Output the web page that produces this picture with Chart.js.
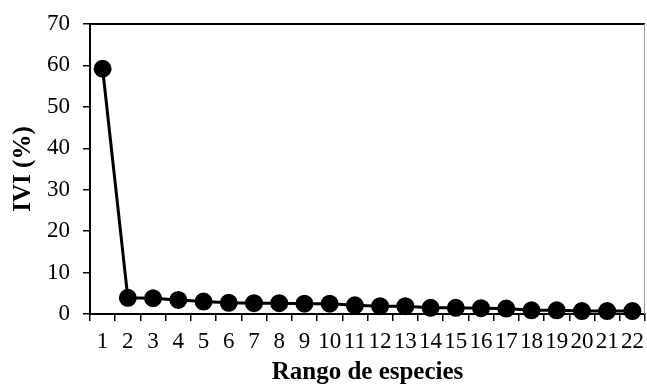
<!DOCTYPE html>
<html>
<head>
<meta charset="utf-8">
<script src="https://cdn.jsdelivr.net/npm/chart.js@4"></script>
<style>
  html, body { margin: 0; padding: 0; background: #fff; }
  #wrap { width: 647px; height: 392px; }
</style>
</head>
<body>
<div id="wrap"><canvas id="cht" width="647" height="392"></canvas></div>
<script>
const rangos = ["1","2","3","4","5","6","7","8","9","10","11","12","13","14","15","16","17","18","19","20","21","22"];
const ivi = [59.2, 3.9, 3.8, 3.4, 3.0, 2.7, 2.6, 2.6, 2.5, 2.5, 2.1, 1.9, 1.9, 1.5, 1.5, 1.4, 1.3, 0.9, 0.9, 0.7, 0.7, 0.7];
const yTicks = [0, 10, 20, 30, 40, 50, 60, 70];

const serif = "'Liberation Serif', 'Times New Roman', serif";

// top + right side of the plot frame
const frame = {
    id: "frame",
    beforeDatasetsDraw(chart) {
        const a = chart.chartArea;
        const ctx = chart.ctx;
        ctx.save();
        ctx.strokeStyle = "#000";
        ctx.lineWidth = 2;
        ctx.beginPath();
        ctx.moveTo(a.left, a.top);
        ctx.lineTo(a.right, a.top);
        ctx.stroke();
        ctx.strokeStyle = "#9a9a9a";
        ctx.lineWidth = 1;
        ctx.beginPath();
        ctx.moveTo(a.right - 0.5, a.top);
        ctx.lineTo(a.right - 0.5, a.bottom);
        ctx.stroke();
        ctx.restore();
    }
};

new Chart(document.getElementById("cht"), {
    type: "line",
    data: {
        labels: rangos,
        datasets: [{
            data: ivi,
            borderColor: "#000",
            backgroundColor: "#000",
            borderWidth: 3,
            pointRadius: 7.5,
            pointHoverRadius: 7.5,
            tension: 0,
            clip: false
        }]
    },
    options: {
        responsive: false,
        animation: false,
        layout: {autoPadding: false, padding: {top: 24, right: 2, left: 0, bottom: 0}},
        plugins: {legend: {display: false}, tooltip: {enabled: false}},
        scales: {
            x: {
                offset: true,
                grid: {offset: true, drawOnChartArea: false, drawTicks: true, tickLength: 7, color: "#000", lineWidth: 1.5},
                border: {color: "#000", width: 2},
                ticks: {color: "#000", font: {family: serif, size: 23}, padding: 7, maxRotation: 0, autoSkip: false},
                title: {display: true, text: "Rango de especies", color: "#000", font: {family: serif, size: 25, weight: "bold"}, padding: {top: 0, bottom: 4}},
                afterFit(s) { s.height = 78; s.paddingLeft = 0; s.paddingRight = 0; }
            },
            y: {
                min: 0,
                max: 70,
                afterBuildTicks(s) { s.ticks = yTicks.map(v => ({value: v})); },
                grid: {drawOnChartArea: false, drawTicks: true, tickLength: 7, color: "#000", lineWidth: 1.5},
                border: {color: "#000", width: 2},
                ticks: {color: "#000", font: {family: serif, size: 23}, padding: 13},
                title: {display: true, text: "IVI (%)", color: "#000", font: {family: serif, size: 25, weight: "bold"}, padding: {top: 9, bottom: 0}},
                afterFit(s) { s.width = 90; s.paddingTop = 0; s.paddingBottom = 0; }
            }
        }
    },
    plugins: [frame]
});
</script>
</body>
</html>
